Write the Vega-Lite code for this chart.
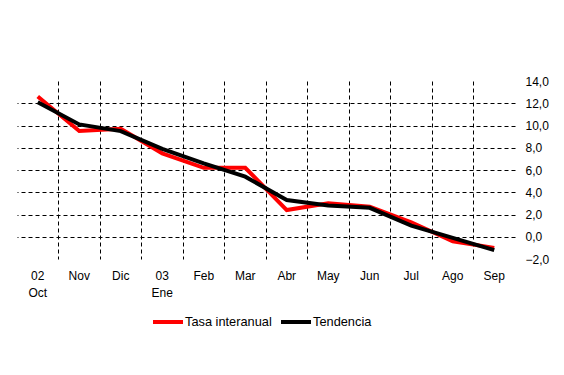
{
  "$schema": "https://vega.github.io/schema/vega-lite/v6.json",
  "autosize": "none",
  "width": 498,
  "height": 178,
  "padding": {"left": 17, "top": 81, "right": 49, "bottom": 116},
  "background": "white",
  "config": {
    "view": {"stroke": null},
    "font": "Liberation Sans",
    "axis": {"labelFont": "Liberation Sans", "labelFontSize": 12, "labelColor": "black"},
    "legend": {"labelFont": "Liberation Sans", "labelFontSize": 12.8, "labelColor": "black"}
  },
  "data": {
    "values": [
      {"mes": "02|Oct", "serie": "Tasa interanual", "valor": 12.6},
      {"mes": "Nov", "serie": "Tasa interanual", "valor": 9.5},
      {"mes": "Dic", "serie": "Tasa interanual", "valor": 9.7},
      {"mes": "03|Ene", "serie": "Tasa interanual", "valor": 7.5},
      {"mes": "Feb", "serie": "Tasa interanual", "valor": 6.2},
      {"mes": "Mar", "serie": "Tasa interanual", "valor": 6.2},
      {"mes": "Abr", "serie": "Tasa interanual", "valor": 2.4},
      {"mes": "May", "serie": "Tasa interanual", "valor": 3.0},
      {"mes": "Jun", "serie": "Tasa interanual", "valor": 2.7},
      {"mes": "Jul", "serie": "Tasa interanual", "valor": 1.3},
      {"mes": "Ago", "serie": "Tasa interanual", "valor": -0.4},
      {"mes": "Sep", "serie": "Tasa interanual", "valor": -1.0},
      {"mes": "02|Oct", "serie": "Tendencia", "valor": 12.1},
      {"mes": "Nov", "serie": "Tendencia", "valor": 10.1},
      {"mes": "Dic", "serie": "Tendencia", "valor": 9.5},
      {"mes": "03|Ene", "serie": "Tendencia", "valor": 7.9},
      {"mes": "Feb", "serie": "Tendencia", "valor": 6.6},
      {"mes": "Mar", "serie": "Tendencia", "valor": 5.4},
      {"mes": "Abr", "serie": "Tendencia", "valor": 3.3},
      {"mes": "May", "serie": "Tendencia", "valor": 2.8},
      {"mes": "Jun", "serie": "Tendencia", "valor": 2.6},
      {"mes": "Jul", "serie": "Tendencia", "valor": 1.0},
      {"mes": "Ago", "serie": "Tendencia", "valor": -0.1},
      {"mes": "Sep", "serie": "Tendencia", "valor": -1.2}
    ]
  },
  "mark": {"type": "line", "strokeWidth": 4, "strokeJoin": "miter"},
  "encoding": {
    "x": {
      "field": "mes",
      "type": "ordinal",
      "sort": null,
      "bandPosition": 0.5,
      "scale": {"type": "band", "paddingInner": 0, "paddingOuter": 0},
      "axis": {
        "title": null,
        "bandPosition": 0,
        "labelAngle": 0,
        "labelAlign": "center",
        "labelBaseline": "top",
        "labelPadding": 11,
        "labelLineHeight": 17,
        "labelExpr": "split(datum.label, '|')",
        "domain": false,
        "ticks": false,
        "grid": true,
        "gridColor": "black",
        "gridDash": [4, 3],
        "gridWidth": 1,
        "gridOpacity": {"condition": {"test": "datum.value === '02|Oct'", "value": 0}, "value": 1}
      }
    },
    "y": {
      "field": "valor",
      "type": "quantitative",
      "scale": {"domain": [-2, 14], "nice": false, "zero": false},
      "axis": {
        "orient": "right",
        "title": null,
        "values": [-2, 0, 2, 4, 6, 8, 10, 12, 14],
        "labelExpr": "replace(format(datum.value, '.1f'), '.', ',')",
        "labelAlign": "left",
        "labelPadding": 10,
        "domain": false,
        "ticks": false,
        "grid": true,
        "gridColor": "black",
        "gridDash": [4, 3],
        "gridWidth": 1,
        "gridOpacity": {"condition": {"test": "datum.value === 14 || datum.value === -2", "value": 0}, "value": 1}
      }
    },
    "color": {
      "field": "serie",
      "type": "nominal",
      "scale": {"domain": ["Tasa interanual", "Tendencia"], "range": ["#ff0000", "#000000"]},
      "legend": {
        "title": null,
        "orient": "none",
        "direction": "horizontal",
        "legendX": 134,
        "legendY": 224,
        "symbolType": "stroke",
        "symbolSize": 900,
        "symbolStrokeWidth": 4,
        "labelOffset": 0,
        "columnPadding": 1
      }
    }
  }
}
